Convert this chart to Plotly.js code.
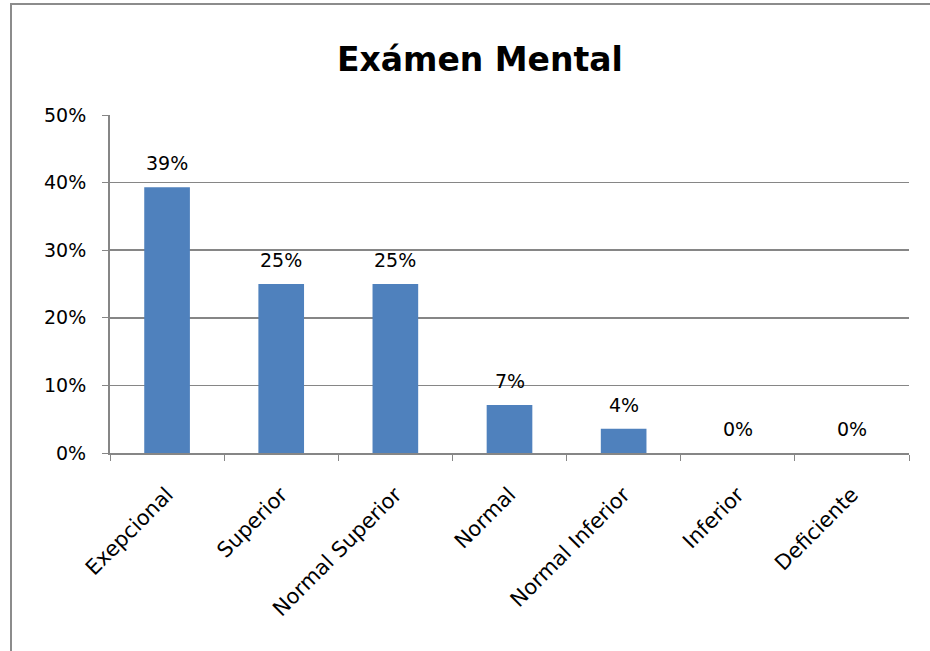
<!DOCTYPE html>
<html>
<head>
<meta charset="utf-8">
<script src="https://cdn.plot.ly/plotly-3.0.1.min.js"></script>
<style>
  html, body { margin: 0; padding: 0; background: #ffffff; }
  #wrap { position: relative; width: 930px; height: 651px; overflow: hidden; }
  #chart { position: absolute; left: 0; top: 0; width: 930px; height: 651px; }
  #frame { position: absolute; left: 10px; top: 3px; width: 940px; height: 700px;
           border-left: 2px solid #8c8c8c; border-top: 2px solid #8c8c8c; pointer-events: none; }
</style>
</head>
<body>
<div id="wrap">
  <div id="chart"></div>
  <div id="frame"></div>
</div>
<script>
const chartTitle = "Exámen Mental";
const categories = ["Exepcional", "Superior", "Normal Superior", "Normal", "Normal Inferior", "Inferior", "Deficiente"];
const values = [0.393, 0.25, 0.25, 0.071, 0.036, 0, 0];
const yTicks = [0, 0.1, 0.2, 0.3, 0.4, 0.5];

const trace = {
  type: "bar",
  x: categories,
  y: values,
  marker: { color: "#4F81BD" },
  hoverinfo: "none"
};

const labelAnnotations = categories.map((c, i) => ({
  x: c,
  y: values[i],
  xref: "x",
  yref: "y",
  text: Math.round(values[i] * 100) + "%",
  showarrow: false,
  xanchor: "center",
  yanchor: "middle",
  yshift: 24,
  font: { family: "DejaVu Sans", size: 19, color: "#000000" }
}));

const layout = {
  width: 930,
  height: 651,
  margin: { l: 110, r: 21, t: 115, b: 198 },
  paper_bgcolor: "#ffffff",
  plot_bgcolor: "#ffffff",
  showlegend: false,
  bargap: 0.6,
  annotations: labelAnnotations,
  title: {
    text: "<b>" + chartTitle + "</b>",
    font: { family: "DejaVu Sans", size: 33, color: "#000000" },
    x: 0.516, xanchor: "center",
    y: 0.909, yanchor: "middle"
  },
  xaxis: {
    type: "category",
    tickangle: -45,
    tickson: "boundaries",
    ticks: "outside",
    ticklen: 6,
    tickcolor: "#868686",
    showline: true,
    linecolor: "#868686",
    linewidth: 2,
    showgrid: false,
    ticklabelstandoff: 19,
    tickfont: { family: "DejaVu Sans", size: 21, color: "#000000" }
  },
  yaxis: {
    range: [0, 0.5],
    tickvals: yTicks,
    tickformat: ".0%",
    ticks: "outside",
    ticklen: 6,
    tickcolor: "#868686",
    showline: true,
    linecolor: "#868686",
    linewidth: 2,
    showgrid: true,
    gridcolor: "#868686",
    gridwidth: 1.5,
    zeroline: false,
    ticklabelstandoff: 12,
    tickfont: { family: "DejaVu Sans", size: 19, color: "#000000" }
  }
};

Plotly.newPlot("chart", [trace], layout, { staticPlot: true, displayModeBar: false });
</script>
</body>
</html>
